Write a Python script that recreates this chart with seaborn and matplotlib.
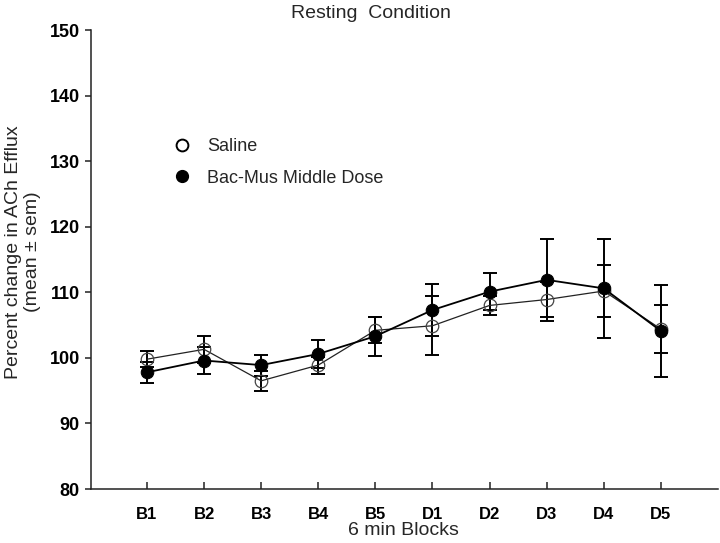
import numpy as np
import pandas as pd
import seaborn as sns
import matplotlib
matplotlib.use("Agg")
import matplotlib.pyplot as plt
from matplotlib.lines import Line2D

# values (percent change, mean +- sem)
blocks = ["B1", "B2", "B3", "B4", "B5", "D1", "D2", "D3", "D4", "D5"]
saline = [99.8, 101.3, 96.5, 98.9, 104.2, 104.9, 108.0, 108.9, 110.2, 104.4]
saline_sem = [1.2, 2.1, 1.5, 1.3, 2.0, 4.5, 1.4, 2.7, 4.0, 3.7]
bacmus = [97.8, 99.6, 98.9, 100.6, 103.3, 107.3, 110.1, 111.9, 110.6, 104.1]
bacmus_sem = [1.6, 2.0, 1.6, 2.1, 3.0, 3.9, 2.8, 6.2, 7.5, 7.0]

sns.set_style("ticks")
plt.rcParams['font.family'] = ['Liberation Sans', 'DejaVu Sans']

df = pd.DataFrame({"block": blocks, "saline": saline, "bacmus": bacmus})

fig = plt.figure(figsize=(7.2, 5.43), dpi=100)
ax = fig.add_axes([0.1264, 0.0994, 0.8708, 0.8453])

# error bars first, markers on top
ax.errorbar(blocks, saline, yerr=saline_sem, fmt='none', ecolor='black',
            elinewidth=1.4, capsize=5, capthick=1.4, zorder=2)
ax.errorbar(blocks, bacmus, yerr=bacmus_sem, fmt='none', ecolor='black',
            elinewidth=1.4, capsize=5, capthick=1.4, zorder=2)

sns.lineplot(data=df, x="block", y="saline", ax=ax, color='#222222', lw=0.9,
             marker='o', markersize=9, markerfacecolor='none',
             markeredgecolor='#444444', markeredgewidth=0.9, zorder=3)
sns.lineplot(data=df, x="block", y="bacmus", ax=ax, color='black', lw=1.3,
             marker='o', markersize=9, markerfacecolor='black',
             markeredgecolor='black', zorder=4)

ax.set_ylim(80, 150)
ax.set_xlim(-0.98, 10.0)
ax.set_yticks(range(80, 151, 10))
ax.set_xlabel("")
ax.set_ylabel("")
sns.despine(ax=ax)
for s in ['left', 'bottom']:
    ax.spines[s].set_linewidth(1.1)
    ax.spines[s].set_color('#222222')

ax.tick_params(axis='y', direction='out', length=4.5, width=1.1, pad=3.5,
               labelsize=13, colors='#222222')
ax.tick_params(axis='x', direction='in', length=5, width=1.1, pad=13,
               labelsize=12, colors='#222222')
for lab in ax.get_xticklabels() + ax.get_yticklabels():
    lab.set_fontweight('bold')
    lab.set_color('black')

fig.text(370.5 / 720, 1 - 18 / 543, "Resting  Condition", ha='center',
         va='baseline', fontsize=14)
fig.text(403 / 720, 1 - 535 / 543, "6 min Blocks", ha='center',
         va='baseline', fontsize=14)
fig.text(23 / 720, 1 - 252 / 543, "Percent change in ACh Efflux\n(mean \u00b1 sem)",
         rotation=90, ha='center', va='center', multialignment='center',
         fontsize=14, linespacing=1.15)

handles = [
    Line2D([], [], ls='none', marker='o', markersize=8.5, markerfacecolor='white',
           markeredgecolor='black', markeredgewidth=1.4),
    Line2D([], [], ls='none', marker='o', markersize=8.5, markerfacecolor='black',
           markeredgecolor='black'),
]
ax.legend(handles, ["Saline", "Bac-Mus Middle Dose"], loc='center left',
          bbox_to_anchor=(172.7 / 720, 1 - 162.4 / 543),
          bbox_transform=fig.transFigure, frameon=False, fontsize=13,
          handlelength=1.0, handletextpad=0.9, labelspacing=0.8,
          borderpad=0, borderaxespad=0)

fig.savefig("out.png", dpi=100)
